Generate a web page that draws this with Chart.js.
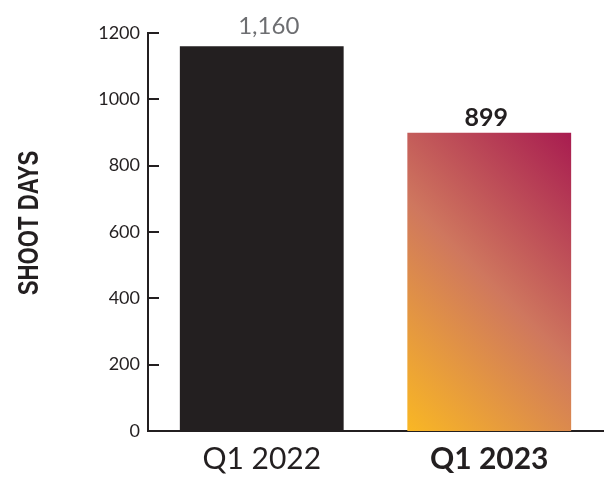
<!DOCTYPE html>
<html>
<head>
<meta charset="utf-8">
<script src="https://cdn.jsdelivr.net/npm/chart.js@4"></script>
<style>
  html, body { margin: 0; padding: 0; background: #fff; }
  #wrap { width: 613px; height: 487px; }
</style>
</head>
<body>
<div id="wrap"><canvas id="chart"></canvas></div>
<script>
// data
const quarters = ["Q1 2022", "Q1 2023"];
const shootDays = [1160, 899];
const valueLabels = ["1,160", "899"];
const yTicks = [0, 200, 400, 600, 800, 1000, 1200];
const axisTitle = "SHOOT DAYS";

const ink = "#231f20";
const barPct = 0.72;

// gradient for the 2023 bar, bottom-left yellow to top-right crimson
function barFill(context) {
    if (context.dataIndex === 0) return ink;
    const chart = context.chart;
    const xs = chart.scales.x;
    const ys = chart.scales.y;
    if (!xs || !ys || !chart.chartArea) return "#cf775e";
    const cx = xs.getPixelForValue(context.dataIndex);
    const half = (xs.width / quarters.length) * barPct / 2;
    const x0 = cx - half;
    const x1 = cx + half;
    const yB = ys.getPixelForValue(0);
    const yT = ys.getPixelForValue(shootDays[context.dataIndex]);
    // project the top-right corner on a 45 degree direction
    const d = ((x1 - x0) + (yB - yT)) / 2;
    const g = chart.ctx.createLinearGradient(x0, yB, x0 + d, yB - d);
    g.addColorStop(0, "#f9b724");
    g.addColorStop(0.5, "#cf775e");
    g.addColorStop(1, "#a81c50");
    return g;
}

// small ticks drawn inside the plot, to the right of the y axis
const innerTicks = {
    id: "innerTicks",
    afterDraw(chart) {
        const y = chart.scales.y;
        const c = chart.ctx;
        c.save();
        c.strokeStyle = ink;
        c.lineWidth = 2;
        yTicks.forEach(v => {
            const py = Math.round(y.getPixelForValue(v));
            c.beginPath();
            c.moveTo(y.right, py);
            c.lineTo(y.right + 11, py);
            c.stroke();
        });
        c.restore();
    }
};

// condensed rotated axis title
const yTitle = {
    id: "yTitle",
    afterDraw(chart) {
        const y = chart.scales.y;
        const c = chart.ctx;
        c.save();
        c.translate(30, (y.top + y.bottom) / 2 - 9);
        c.rotate(-Math.PI / 2);
        c.scale(0.74, 1);
        c.font = "bold 30px 'Liberation Sans'";
        c.fillStyle = ink;
        c.textAlign = "center";
        c.textBaseline = "middle";
        c.fillText(axisTitle, 0, 0);
        c.restore();
    }
};

// value labels above the bars
const barLabels = {
    id: "barLabels",
    afterDatasetsDraw(chart) {
        const c = chart.ctx;
        const meta = chart.getDatasetMeta(0);
        c.save();
        c.textAlign = "center";
        c.textBaseline = "alphabetic";
        meta.data.forEach((bar, i) => {
            if (i === 0) {
                c.font = "24px Lato";
                c.fillStyle = "#6d6e71";
                c.fillText(valueLabels[i], bar.x + 7, bar.y - 12);
            } else {
                c.font = "bold 25px Lato";
                c.fillStyle = ink;
                c.fillText(valueLabels[i], bar.x - 3, bar.y - 7);
            }
        });
        c.restore();
    }
};

new Chart(document.getElementById("chart"), {
    type: "bar",
    data: {
        labels: quarters,
        datasets: [{
            data: shootDays,
            backgroundColor: barFill,
            barPercentage: barPct,
            categoryPercentage: 1
        }]
    },
    options: {
        responsive: true,
        maintainAspectRatio: false,
        animation: false,
        layout: { padding: { top: 33, right: 10, left: 0, bottom: 0 } },
        plugins: {
            legend: { display: false },
            tooltip: { enabled: false }
        },
        scales: {
            x: {
                grid: { display: false, drawTicks: false },
                border: { display: true, color: ink, width: 2 },
                ticks: {
                    color: ink,
                    padding: 10,
                    font: (ctx) => ({
                        family: "Lato",
                        size: 30,
                        weight: ctx.index === 1 ? "bold" : "normal"
                    })
                },
                afterFit(scale) { scale.height = 56; }
            },
            y: {
                min: 0,
                max: 1200,
                grid: { display: false, drawTicks: false },
                border: { display: true, color: ink, width: 2 },
                afterBuildTicks(scale) {
                    scale.ticks = yTicks.map(v => ({ value: v }));
                },
                ticks: {
                    color: ink,
                    padding: 8,
                    font: { family: "Lato", size: 18 },
                    callback: (v) => String(v)
                },
                afterFit(scale) { scale.width = 148; }
            }
        }
    },
    plugins: [innerTicks, yTitle, barLabels]
});
</script>
</body>
</html>
